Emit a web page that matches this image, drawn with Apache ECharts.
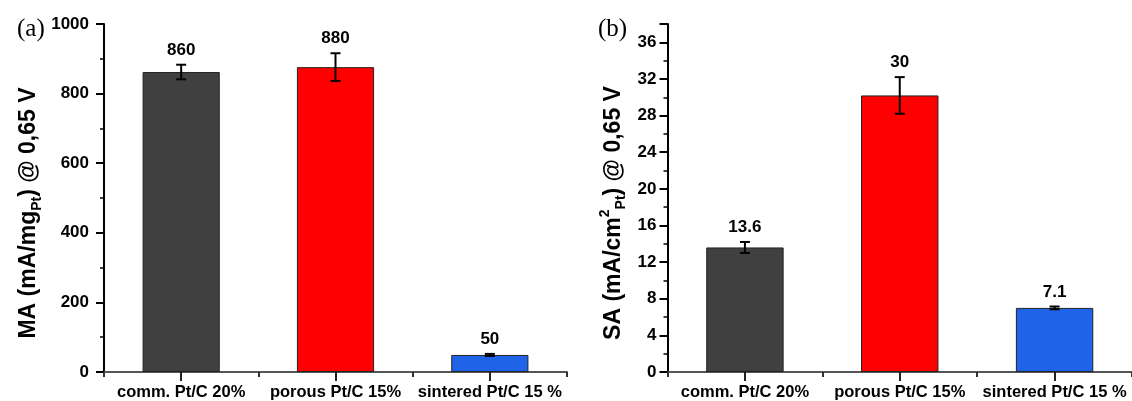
<!DOCTYPE html>
<html>
<head>
<meta charset="utf-8">
<script src="https://cdn.jsdelivr.net/npm/echarts@6/dist/echarts.min.js"></script>
<style>
  html, body { margin: 0; padding: 0; background: #fff; }
  #chart { width: 1132px; height: 401px; }
</style>
</head>
<body>
<div id="chart"></div>
<script>
// samples on the x axis
const categories = ['comm. Pt/C 20%', 'porous Pt/C 15%', 'sintered Pt/C 15 %'];
const barColors = ['#404040', '#ff0000', '#1f64e8'];

// (a) mass activity
const maValues = [862, 876, 49];
const maErrors = [21, 40, 3];
const maLabels = ['860', '880', '50'];

// (b) specific activity
const saValues = [13.6, 30.2, 7.0];
const saErrors = [0.6, 2.0, 0.15];
const saLabels = ['13.6', '30', '7.1'];

const FONT = 'Liberation Sans, Arial, sans-serif';

const chart = echarts.init(document.getElementById('chart'), null, { renderer: 'canvas' });

function barData(values) {
    return values.map((v, i) => ({
        value: v,
        itemStyle: { color: barColors[i] }
    }));
}

// error bar + value text above it
function errorSeries(xIdx, yIdx, values, errors, labels) {
    return {
        type: 'custom',
        xAxisIndex: xIdx,
        yAxisIndex: yIdx,
        z: 5,
        data: values.map((v, i) => [i, v, errors[i]]),
        encode: { x: 0, y: 1 },
        renderItem: (params, api) => {
            const i = api.value(0);
            const v = api.value(1);
            const e = api.value(2);
            const top = api.coord([i, v + e]);
            const bot = api.coord([i, v - e]);
            const cap = 5;
            const style = { stroke: '#000', lineWidth: 2 };
            return {
                type: 'group',
                children: [
                    { type: 'line', shape: { x1: top[0], y1: top[1], x2: bot[0], y2: bot[1] }, style },
                    { type: 'line', shape: { x1: top[0] - cap, y1: top[1], x2: top[0] + cap, y2: top[1] }, style },
                    { type: 'line', shape: { x1: bot[0] - cap, y1: bot[1], x2: bot[0] + cap, y2: bot[1] }, style },
                    {
                        type: 'text',
                        style: {
                            x: top[0], y: top[1] - 6,
                            text: labels[params.dataIndex],
                            align: 'center', verticalAlign: 'bottom',
                            font: 'bold 17px ' + FONT,
                            fill: '#000'
                        }
                    }
                ]
            };
        }
    };
}

function mainXAxis(gridIndex) {
    return {
        type: 'category',
        gridIndex,
        position: 'bottom',
        data: categories,
        axisLine: { lineStyle: { color: '#555', width: 2 } },
        axisTick: { show: true, length: 5, lineStyle: { color: '#333', width: 2 } },
        axisLabel: { color: '#000', fontSize: 16.5, fontWeight: 'bold', fontFamily: FONT, margin: 12, interval: 0 }
    };
}

// second axis on the same grid, only for the ticks under each bar
function centerTickAxis(gridIndex) {
    return {
        type: 'category',
        gridIndex,
        position: 'bottom',
        data: categories,
        axisLine: { show: false },
        axisTick: { show: true, alignWithLabel: true, length: 9, lineStyle: { color: '#222', width: 2 } },
        axisLabel: { show: false }
    };
}

function yAxisBase(gridIndex, max, interval, name, rich, gap, margin) {
    return {
        type: 'value',
        gridIndex,
        min: 0,
        max,
        interval,
        splitLine: { show: false },
        axisLine: { show: true, lineStyle: { color: '#000', width: 2 } },
        axisTick: { show: true, length: 8, lineStyle: { color: '#000', width: 2 } },
        minorTick: { show: true, splitNumber: 2, length: 4, lineStyle: { color: '#000', width: 1.5 } },
        axisLabel: {
            color: '#000', fontSize: 17, fontWeight: 'bold', fontFamily: FONT, margin,
            showMaxLabel: max % interval === 0,
            formatter: v => String(v)
        },
        name,
        nameLocation: 'middle',
        nameRotate: 90,
        nameGap: gap,
        nameTextStyle: {
            color: '#000',
            fontFamily: FONT,
            fontWeight: 'bold',
            fontSize: 23,
            padding: [0, 30, 0, 0],
            rich
        }
    };
}

const mainStyle = { fontSize: 23, fontWeight: 'bold', fontFamily: FONT, color: '#000', lineHeight: 30, verticalAlign: 'middle' };
const subStyle = { fontSize: 14, fontWeight: 'bold', fontFamily: FONT, color: '#000', lineHeight: 14, verticalAlign: 'bottom' };
const supStyle = { fontSize: 14, fontWeight: 'bold', fontFamily: FONT, color: '#000', lineHeight: 14, verticalAlign: 'top' };

const option = {
    backgroundColor: '#fff',
    animation: false,
    title: [
        { text: '(a)', left: 12, top: 12, textStyle: { fontFamily: 'Liberation Serif, Times New Roman, serif', fontWeight: 'normal', fontSize: 25, color: '#000' } },
        { text: '(b)', left: 593, top: 12, textStyle: { fontFamily: 'Liberation Serif, Times New Roman, serif', fontWeight: 'normal', fontSize: 25, color: '#000' } }
    ],
    grid: [
        { left: 104, top: 24, width: 463, height: 348.5 },
        { left: 667.5, top: 24, width: 464.5, height: 348.5 }
    ],
    xAxis: [
        mainXAxis(0),
        centerTickAxis(0),
        mainXAxis(1),
        centerTickAxis(1)
    ],
    yAxis: [
        yAxisBase(0, 1000, 200, '{m|MA (mA/mg}{s|Pt}{m|) @ 0,65 V}', { m: mainStyle, s: subStyle }, 60, 15),
        yAxisBase(1, 38, 4, '{m|SA (mA/cm}{p|2}{s|Pt}{m|) @ 0,65 V}', { m: mainStyle, s: subStyle, p: supStyle }, 39, 11)
    ],
    series: [
        {
            type: 'bar',
            xAxisIndex: 0,
            yAxisIndex: 0,
            barWidth: '50%',
            data: barData(maValues),
            itemStyle: { borderColor: '#222', borderWidth: 1 }
        },
        errorSeries(0, 0, maValues, maErrors, maLabels),
        {
            type: 'bar',
            xAxisIndex: 2,
            yAxisIndex: 1,
            barWidth: '50%',
            data: barData(saValues),
            itemStyle: { borderColor: '#222', borderWidth: 1 }
        },
        errorSeries(2, 1, saValues, saErrors, saLabels)
    ]
};

chart.setOption(option);
</script>
</body>
</html>
